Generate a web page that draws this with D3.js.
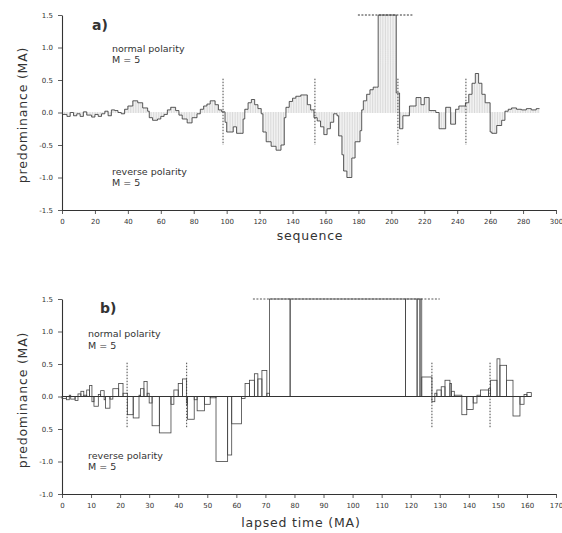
<!DOCTYPE html>
<html><head><meta charset="utf-8">
<script src="https://cdn.jsdelivr.net/npm/d3@7"></script>
<style>
body{margin:0;background:#fff}
svg{display:block}
text{font-family:"DejaVu Sans",sans-serif;fill:#333}
</style>
</head><body><svg id="c" width="562" height="533"></svg>
<script>
// ---------- DATA ----------
// panel a: [sequence start, predominance (MA)] — each step lasts until the next start
const seqSteps = [
 [0,-0.03],[3,-0.06],[5,0.0],[7,-0.05],[9,-0.02],[11,-0.06],[13,0.01],[15,-0.04],[18,-0.07],[20,-0.03],
 [22,-0.06],[24,-0.02],[26,0.02],[28,-0.05],[30,0.04],[32,0.03],[34,0.0],[36,-0.02],[38,0.05],[40,0.1],
 [43,0.18],[46,0.15],[49,0.07],[52,0.02],[53,-0.08],[55,-0.12],[58,-0.1],[60,-0.06],[62,-0.03],[64,0.04],
 [66,0.08],[69,0.03],[71,-0.04],[73,-0.1],[76,-0.16],[79,-0.08],[82,-0.02],[84,0.05],[86,0.1],[88,0.13],
 [90,0.18],[93,0.12],[95,0.04],[97,0.01],[99,-0.15],[100,-0.3],[104,-0.22],[106,-0.32],[110,-0.1],[111,0.05],
 [113,0.15],[115,0.2],[117,0.12],[119,0.06],[121,-0.02],[122,-0.3],[124,-0.45],[127,-0.52],[130,-0.58],[133,-0.5],
 [135,-0.08],[136,0.08],[138,0.17],[140,0.22],[142,0.25],[145,0.27],[149,0.12],[151,0.04],[153,-0.08],[155,-0.13],
 [157,-0.22],[159,-0.34],[161,-0.25],[163,-0.15],[165,-0.02],[167,-0.05],[168,-0.36],[170,-0.65],[171,-0.9],[173,-1.0],
 [176,-0.7],[178,-0.45],[181,-0.28],[182,0.04],[183,0.18],[185,0.28],[187,0.35],[189,0.39],[191,0.39],[192,1.5],
 [203,0.3],[205,-0.25],[207,-0.05],[211,0.1],[215,0.23],[218,0.12],[220,0.23],[223,0.03],[227,0.0],[229,-0.25],
 [233,0.08],[236,-0.18],[239,0.05],[241,0.1],[245,0.15],[247,0.28],[249,0.45],[251,0.6],[253,0.45],[255,0.28],
 [257,0.15],[260,-0.3],[261,-0.32],[264,-0.2],[267,-0.12],[269,0.02],[271,0.05],[273,0.07],[276,0.05],[279,0.04],
 [282,0.06],[285,0.04],[288,0.06]
];
const seqEnd = 290;
const seqMarkers = [97.8, 153.6, 204, 245.3];
const seqClip = [179.7, 213];

// panel b: [lapsed time start (MA), predominance (MA)]
const timeSteps = [
 [0,-0.03],[1.5,-0.05],[2.5,0.02],[3,-0.04],[4.5,-0.06],[5.5,0.04],[6.5,0.08],[7.5,0.02],[8.5,0.1],[9.5,0.17],
 [10.3,-0.08],[11,-0.15],[12.5,0.03],[13.3,0.09],[14.5,-0.05],[15,-0.18],[16.5,-0.04],[17.5,0.12],[19.5,0.2],[21,0.05],
 [22.5,-0.28],[24.5,-0.33],[26.5,0.02],[27,0.12],[28.2,0.23],[29.3,0.05],[30,-0.1],[31,-0.45],[33.5,-0.56],[37.5,-0.12],
 [38.5,0.1],[40,0.2],[41.5,0.27],[42.8,-0.12],[43.2,-0.35],[45.5,-0.05],[46.5,-0.22],[49,-0.12],[51,-0.02],[53,-1.0],
 [57,-0.9],[58.4,-0.42],[61.8,-0.03],[63,0.2],[64.5,0.25],[66.2,0.35],[67.4,0.27],[68.8,0.4],[70.5,0.05],[71.4,1.5],
 [78.5,1.5],[118.2,1.5],[122.2,1.5],[123.2,1.5],[123.8,0.3],[127.3,-0.08],[128.3,0.05],[129,0.1],[130.5,0.15],[131.8,0.25],
 [133.5,0.2],[134,0.08],[135,0.02],[137.6,-0.28],[139.3,-0.2],[141.5,-0.1],[142.8,0.02],[144,0.1],[146.8,0.12],[147.5,0.25],
 [149.7,0.58],[150.7,0.48],[153,0.25],[155.2,-0.3],[157.6,-0.12],[159,0.03],[160,0.06]
];
const timeEnd = 161.5;
const timeMarkers = [22.4, 42.9, 127.3, 147.3];
const timeClip = [65.7, 130];

const seqTicks = d3.range(0, 301, 20);
const timeTicks = d3.range(0, 171, 10);
const yTickValues = [-1.5, -1, -0.5, 0, 0.5, 1, 1.5];
const yLabelsA = ["-1.5", "-1.0", "-0.5", "0.0", "0.5", "1.0", "1.5"];
const yLabelsB = ["-1.0", "-1.0", "0.5", "0.0", "0.5", "1.0", "1.5"];

// ---------- DRAW ----------
const svg = d3.select("#c");
const ink = "#333";

const xA = d3.scaleLinear([0, 300], [62, 556]);
const yA = d3.scaleLinear([-1.5, 1.5], [210, 15]);
const xB = d3.scaleLinear([0, 170], [62, 556]);
const yB = d3.scaleLinear([-1.5, 1.5], [494, 299]);

function styleAxis(g) {
  g.selectAll("path.domain").attr("stroke", ink).attr("stroke-width", 1.1);
  g.selectAll(".tick line").attr("stroke", ink).attr("stroke-width", 0.8);
  g.selectAll(".tick text").attr("font-size", 7).attr("fill", "#444")
    .attr("font-family", "DejaVu Sans, sans-serif");
}

function axes(x, y, ticks, ylabels, xAxisY) {
  svg.append("g").attr("transform", `translate(0,${xAxisY})`)
    .call(d3.axisBottom(x).tickValues(ticks).tickSize(4).tickSizeOuter(0).tickPadding(5))
    .call(styleAxis);
  svg.append("g").attr("transform", `translate(62,0)`)
    .call(d3.axisLeft(y).tickValues(yTickValues).tickFormat((d, i) => ylabels[i])
      .tickSize(4).tickSizeOuter(0).tickPadding(5))
    .call(styleAxis);
}

function valueAt(steps, t) {
  let v = steps[0][1];
  for (const s of steps) { if (s[0] <= t) v = s[1]; else break; }
  return v;
}

// ---- panel a ----
axes(xA, yA, seqTicks, yLabelsA, 210);

// hatching
const hatch = d3.range(0, seqEnd).map(i => [i + 0.5, valueAt(seqSteps, i + 0.5)]);
svg.append("g").selectAll("line").data(hatch).join("line")
  .attr("x1", d => xA(d[0])).attr("x2", d => xA(d[0]))
  .attr("y1", yA(0)).attr("y2", d => yA(d[1]))
  .attr("stroke", "#666").attr("stroke-width", 0.5).attr("stroke-dasharray", "1,1");

// step outline
const stepPtsA = seqSteps.concat([[seqEnd, seqSteps[seqSteps.length - 1][1]]]);
svg.append("path").datum(stepPtsA)
  .attr("d", d3.line().x(d => xA(d[0])).y(d => yA(d[1])).curve(d3.curveStepAfter))
  .attr("fill", "none").attr("stroke", ink).attr("stroke-width", 0.8);

// dotted markers
svg.append("g").selectAll("line").data(seqMarkers).join("line")
  .attr("x1", d => xA(d)).attr("x2", d => xA(d))
  .attr("y1", yA(0.52)).attr("y2", yA(-0.5))
  .attr("stroke", ink).attr("stroke-width", 0.9).attr("stroke-dasharray", "1.5,1.5");
svg.append("line")
  .attr("x1", xA(seqClip[0])).attr("x2", xA(seqClip[1]))
  .attr("y1", yA(1.5)).attr("y2", yA(1.5))
  .attr("stroke", ink).attr("stroke-width", 1).attr("stroke-dasharray", "2,1.5");

// ---- panel b ----
axes(xB, yB, timeTicks, yLabelsB, 494);

const barsB = timeSteps.map((s, i) => ({
  x0: s[0], x1: i < timeSteps.length - 1 ? timeSteps[i + 1][0] : timeEnd, v: s[1]
}));
svg.append("g").selectAll("rect").data(barsB).join("rect")
  .attr("x", d => xB(d.x0)).attr("width", d => xB(d.x1) - xB(d.x0))
  .attr("y", d => Math.min(yB(0), yB(d.v))).attr("height", d => Math.abs(yB(d.v) - yB(0)))
  .attr("fill", "none").attr("stroke", "#444").attr("stroke-width", 0.8);

svg.append("line").attr("x1", 62).attr("x2", xB(timeEnd))
  .attr("y1", yB(0)).attr("y2", yB(0)).attr("stroke", ink).attr("stroke-width", 1);

svg.append("g").selectAll("line").data(timeMarkers).join("line")
  .attr("x1", d => xB(d)).attr("x2", d => xB(d))
  .attr("y1", yB(0.52)).attr("y2", yB(-0.48))
  .attr("stroke", ink).attr("stroke-width", 0.9).attr("stroke-dasharray", "1.5,1.5");
svg.append("line")
  .attr("x1", xB(timeClip[0])).attr("x2", xB(timeClip[1]))
  .attr("y1", yB(1.5)).attr("y2", yB(1.5))
  .attr("stroke", "#555").attr("stroke-width", 1).attr("stroke-dasharray", "2,1.5");

// ---- texts ----
function txt(x, y, s, size, opts = {}) {
  const t = svg.append("text").attr("x", x).attr("y", y).text(s)
    .attr("font-size", size).attr("fill", opts.fill || ink);
  if (opts.anchor) t.attr("text-anchor", opts.anchor);
  if (opts.weight) t.attr("font-weight", opts.weight);
  if (opts.ls) t.attr("letter-spacing", opts.ls);
  if (opts.rot) t.attr("transform", `rotate(-90,${x},${y})`);
  return t;
}
txt(92, 30, "a)", 14, {weight: "bold", fill: "#222"});
txt(112, 52, "normal polarity", 9.5);
txt(112, 63, "M = 5", 9.5);
txt(112, 175, "reverse polarity", 9.5);
txt(112, 186, "M = 5", 9.5);
txt(310, 240, "sequence", 12.5, {anchor: "middle", ls: 0.8});
txt(27, 115, "predominance (MA)", 12.5, {anchor: "middle", ls: 0.8, rot: true});

txt(100, 313, "b)", 14, {weight: "bold", fill: "#222"});
txt(88, 337, "normal polarity", 9.5);
txt(88, 349, "M = 5", 9.5);
txt(88, 459, "reverse polarity", 9.5);
txt(88, 470, "M = 5", 9.5);
txt(301, 527, "lapsed time (MA)", 12.5, {anchor: "middle", ls: 0.8});
txt(27, 400, "predominance (MA)", 12.5, {anchor: "middle", ls: 0.8, rot: true});
</script>
</body></html>
